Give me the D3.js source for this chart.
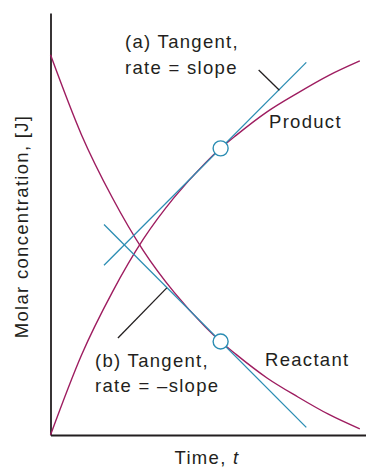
<!DOCTYPE html>
<html>
<head>
<meta charset="utf-8">
<script src="https://cdn.jsdelivr.net/npm/d3@7"></script>
<style>
  html, body { margin: 0; padding: 0; background: #fff; }
  svg { display: block; }
  text { font-family: "Liberation Sans", Arial, sans-serif; font-size: 18.5px; letter-spacing: 1.3px; fill: #231f20; }
</style>
</head>
<body>
<svg id="chart" width="366" height="469"></svg>
<script>
// Time samples and concentrations (arbitrary units)
const time      = [0, 1, 2, 3, 4, 5, 5.5, 6, 7, 8, 9, 10];
const reactant  = [1.00, 0.790, 0.624, 0.485, 0.375, 0.285, 0.246, 0.212, 0.150, 0.100, 0.054, 0.016];
const product   = [0.00, 0.210, 0.376, 0.515, 0.625, 0.715, 0.754, 0.788, 0.850, 0.900, 0.946, 0.984];

// Instant at which the rate is evaluated, and the tangent slope there
const tangentTime = 5.5;
const tangentSlope = 0.0816;
const tangentSpan = [1.73, 8.27];

// Leader lines from labels to tangents: [time, concentration] pairs
const leaderA = [[6.73, 0.960], [7.40, 0.907]];
const leaderB = [[2.18, 0.255], [3.76, 0.387]];

const magenta = "#9e1d60";
const teal = "#2b8db3";
const ink = "#231f20";

const svg = d3.select("#chart");

const x = d3.scaleLinear().domain([0, 10.2]).range([50.5, 366]);
const y = d3.scaleLinear().domain([0, 1.11]).range([435, 13]);

// Axes: bare lines, no ticks
svg.append("g")
  .attr("transform", `translate(0,${y(0)})`)
  .call(d3.axisBottom(x).ticks(0).tickSizeOuter(0))
  .call(g => g.select(".domain").attr("stroke", ink).attr("stroke-width", 1.8));

svg.append("g")
  .attr("transform", `translate(${x(0)},0)`)
  .call(d3.axisLeft(y).ticks(0).tickSizeOuter(0))
  .call(g => g.select(".domain").attr("stroke", ink).attr("stroke-width", 1.8));

const line = d3.line()
  .x(d => x(d[0]))
  .y(d => y(d[1]))
  .curve(d3.curveMonotoneX);

const straight = d3.line().x(d => x(d[0])).y(d => y(d[1]));

// Concentration curves
[reactant, product].forEach(series => {
  svg.append("path")
    .datum(time.map((t, i) => [t, series[i]]))
    .attr("d", line)
    .attr("fill", "none")
    .attr("stroke", magenta)
    .attr("stroke-width", 1.4);
});

// Tangents at the chosen instant
const iT = time.indexOf(tangentTime);
const pT = product[iT];
const rT = reactant[iT];

svg.append("path")
  .datum(tangentSpan.map(t => [t, pT + tangentSlope * (t - tangentTime)]))
  .attr("d", straight)
  .attr("stroke", teal)
  .attr("stroke-width", 1.3);

svg.append("path")
  .datum(tangentSpan.map(t => [t, rT - tangentSlope * (t - tangentTime)]))
  .attr("d", straight)
  .attr("stroke", teal)
  .attr("stroke-width", 1.3);

// Leader lines
[leaderA, leaderB].forEach(seg => {
  svg.append("path")
    .datum(seg)
    .attr("d", straight)
    .attr("stroke", ink)
    .attr("stroke-width", 1.3);
});

// Points of tangency
[pT, rT].forEach(c => {
  svg.append("circle")
    .attr("cx", x(tangentTime))
    .attr("cy", y(c))
    .attr("r", 7.5)
    .attr("fill", "#fff")
    .attr("stroke", teal)
    .attr("stroke-width", 1.4);
});

// Labels
const label = (tx, ty, str) => svg.append("text").attr("x", tx).attr("y", ty).text(str);
label(125, 48, "(a) Tangent,");
label(125, 73.5, "rate = slope");
label(269, 128, "Product");
label(95, 367, "(b) Tangent,");
label(95, 392, "rate = \u2013slope");
label(265, 366, "Reactant");

const xt = svg.append("text")
  .attr("x", 207)
  .attr("y", 464)
  .attr("text-anchor", "middle");
xt.append("tspan").text("Time, ");
xt.append("tspan").attr("font-style", "italic").text("t");

svg.append("text")
  .attr("transform", "translate(28,226.5) rotate(-90)")
  .attr("text-anchor", "middle")
  .text("Molar concentration, [J]");
</script>
</body>
</html>
